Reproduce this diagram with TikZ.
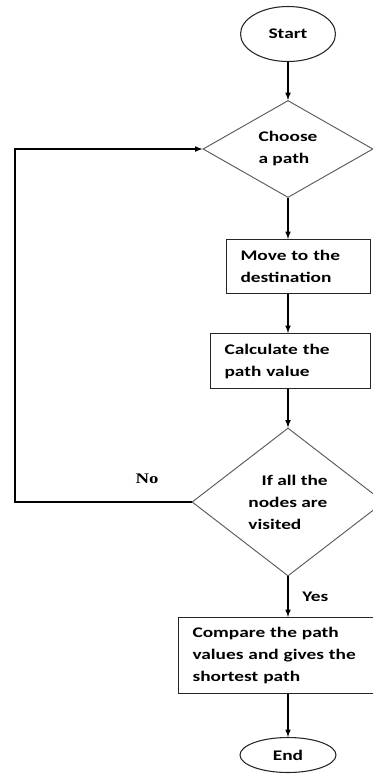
\documentclass[tikz,border=0pt]{standalone}
\usepackage{fontspec}
\setmainfont{Carlito}[FakeStretch=1.32]
\newfontfamily\nofont{Liberation Serif}[FakeStretch=1.28]
\usepackage{tikz}
\usetikzlibrary{arrows,shapes.geometric}

\begin{document}
\begin{tikzpicture}[x=0.75pt,y=0.75pt,
  every node/.style={font=\fontsize{11}{16.5}\selectfont\bfseries},
  term/.style={ellipse,draw=black!85,line width=0.8pt,inner sep=0pt},
  choice/.style={diamond,draw=black!65,line width=0.7pt,inner sep=0pt,align=left},
  job/.style={rectangle,draw=black!85,line width=0.8pt,align=left,inner xsep=10.5pt,inner ysep=2pt,anchor=north west},
  line/.style={-latex,line width=0.9pt}]

\useasboundingbox (0,0) rectangle (373,-775);

\node[term,minimum width=71.25pt,minimum height=41.25pt] (start) at (288,-34) {Start};
\node[choice,shape aspect=1.75,minimum width=127.5pt,minimum height=72.75pt] (choose) at (288,-149) {Choose\\a path};
\node[job,text width=87pt,minimum height=40.5pt] (move) at (226,-239) {Move to the\\destination};
\node[job,text width=99pt,minimum height=41.25pt] (calc) at (210,-333) {Calculate the\\path value};
\node[choice,shape aspect=1.3,minimum width=144pt,minimum height=111pt] (decide) at (288,-502) {\hspace*{10pt}If all the\\nodes are\\visited};
\node[job,text width=125.25pt,minimum height=57pt] (compare) at (178,-617) {Compare the path\\values and gives the\\shortest path};
\node[term,minimum width=72pt,minimum height=26.25pt] (end) at (288,-755) {End};

\node (no) at (147,-479) {\nofont No};

\draw[line] (start) -- (choose);
\draw[line] (choose) -- (choose.south |- move.north);
\draw[line] (choose.south |- move.south) -- (choose.south |- calc.north);
\draw[line] (choose.south |- calc.south) -- (decide);
\draw[line] (decide) -- (decide.south |- compare.north) node[midway,right=7pt] {Yes};
\draw[line] (compare.south -| end) -- (end);

\coordinate (back) at (15,-149);
\draw[line] (decide.west) -| (back) -- (choose.west);

\end{tikzpicture}
\end{document}
